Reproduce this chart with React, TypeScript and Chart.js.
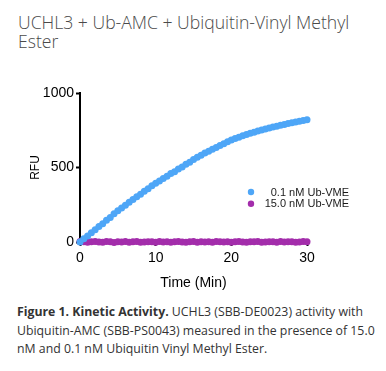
import React, { useEffect, useRef } from "react";
import { Chart, registerables } from "chart.js";

Chart.register(...registerables);

const titleText = "UCHL3 + Ub-AMC + Ubiquitin-Vinyl Methyl Ester";
const xTitle = "Time (Min)";
const yTitle = "RFU";

const times = [
  0, 0.5, 1, 1.5, 2, 2.5, 3, 3.5, 4, 4.5,
  5, 5.5, 6, 6.5, 7, 7.5, 8, 8.5, 9, 9.5,
  10, 10.5, 11, 11.5, 12, 12.5, 13, 13.5, 14, 14.5,
  15, 15.5, 16, 16.5, 17, 17.5, 18, 18.5, 19, 19.5,
  20, 20.5, 21, 21.5, 22, 22.5, 23, 23.5, 24, 24.5,
  25, 25.5, 26, 26.5, 27, 27.5, 28, 28.5, 29, 29.5,
  30,
];

const rfu01 = [
  0, 21, 40, 62, 82, 104, 123, 146, 165, 189,
  209, 229, 246, 267, 285, 304, 321, 341, 358, 378,
  395, 409, 427, 441, 459, 472, 490, 504, 522, 536,
  553, 569, 582, 597, 609, 623, 635, 648, 659, 672,
  684, 695, 703, 713, 721, 730, 737, 745, 751, 759,
  765, 772, 777, 784, 789, 796, 800, 806, 810, 816,
  820,
];

const rfu15 = [
  3, 1, -2, 2, 4, 0, -1, 3, 1, -3,
  2, 0, 4, -1, 1, 3, -2, 0, 2, 1,
  -1, 3, 0, 2, -2, 1, 4, 0, -1, 2,
  3, -1, 1, 0, 2, -2, 3, 1, 0, 2,
  -1, 1, 4, 0, -2, 2, 1, 3, -1, 0,
  2, 1, -2, 3, 0, 1, 2, -1, 0, 3,
  1,
];

const seriesLabels = ["0.1 nM Ub-VME", "15.0 nM Ub-VME"];
const seriesColors = ["#4ea6f7", "#a32dab"];
const xTicks = [0, 10, 20, 30];
const yTicks = [0, 500, 1000];

const captionBold = "Figure 1. Kinetic Activity.";
const captionRest =
  " UCHL3 (SBB-DE0023) activity with Ubiquitin-AMC (SBB-PS0043) measured in the presence of 15.0 nM and 0.1 nM Ubiquitin Vinyl Methyl Ester.";

const legendPlugin = {
  id: "insideLegend",
  afterDatasetsDraw(chart: any) {
    const ctx = chart.ctx;
    const area = chart.chartArea;
    const dotX = area.left + 171;
    const textRight = area.left + 269;
    let y = area.top + 99;
    ctx.save();
    ctx.font = "11px 'Liberation Sans', Arial, sans-serif";
    ctx.textAlign = "right";
    ctx.textBaseline = "middle";
    chart.data.datasets.forEach((ds: any) => {
      ctx.beginPath();
      ctx.arc(dotX, y, 3.2, 0, Math.PI * 2);
      ctx.fillStyle = ds.backgroundColor;
      ctx.fill();
      ctx.fillStyle = "#1a1a1a";
      ctx.fillText(ds.label, textRight, y + 0.5);
      y += 11.7;
    });
    ctx.restore();
  },
};

export default function App() {
  const canvasRef = useRef<HTMLCanvasElement | null>(null);

  useEffect(() => {
    document.body.style.margin = "0";
    const canvas = canvasRef.current;
    if (!canvas) return;
    const tickFont = { family: "'Liberation Sans', Arial, sans-serif", size: 14 };
    const chart = new Chart(canvas, {
      type: "scatter",
      data: {
        datasets: [
          {
            label: seriesLabels[0],
            data: times.map((t, i) => ({ x: t, y: rfu01[i] })),
            backgroundColor: seriesColors[0],
            borderColor: seriesColors[0],
            pointRadius: 3.5,
            pointBorderWidth: 0,
            clip: false,
          } as any,
          {
            label: seriesLabels[1],
            data: times.map((t, i) => ({ x: t, y: rfu15[i] })),
            backgroundColor: seriesColors[1],
            borderColor: seriesColors[1],
            pointRadius: 3.5,
            pointBorderWidth: 0,
            clip: false,
          } as any,
        ],
      },
      options: {
        animation: false,
        responsive: false,
        devicePixelRatio: 1,
        layout: { padding: { left: 0, right: 79, top: 13, bottom: 0 } },
        plugins: {
          legend: { display: false },
          tooltip: { enabled: false },
        },
        scales: {
          x: {
            type: "linear",
            min: 0,
            max: 30,
            afterBuildTicks: (s: any) => {
              s.ticks = xTicks.map((v) => ({ value: v }));
            },
            afterFit: (s: any) => {
              s.height = 53;
            },
            ticks: {
              color: "#000",
              font: tickFont,
              padding: 4,
              maxRotation: 0,
              callback: (v: any) => String(v),
            },
            grid: {
              drawOnChartArea: false,
              drawTicks: true,
              tickLength: 4,
              tickWidth: 2,
              color: "#000",
            },
            border: { display: true, color: "#000", width: 2 },
            title: {
              display: true,
              text: xTitle,
              color: "#000",
              font: tickFont,
              padding: { top: 0, bottom: 3 },
            },
          },
          y: {
            type: "linear",
            min: 0,
            max: 1000,
            afterBuildTicks: (s: any) => {
              s.ticks = yTicks.map((v) => ({ value: v }));
            },
            afterFit: (s: any) => {
              s.width = 80;
            },
            ticks: {
              color: "#000",
              font: tickFont,
              padding: 2,
              callback: (v: any) => String(v),
            },
            grid: {
              drawOnChartArea: false,
              drawTicks: true,
              tickLength: 4,
              tickWidth: 2,
              color: "#000",
            },
            border: { display: true, color: "#000", width: 2 },
            title: {
              display: true,
              text: yTitle,
              color: "#000",
              font: { family: "'Liberation Sans', Arial, sans-serif", size: 12 },
              padding: { top: 28, bottom: 0 },
            },
          },
        },
      },
      plugins: [legendPlugin],
    });
    return () => chart.destroy();
  }, []);

  return (
    <div style={{ position: "relative", width: 386, height: 371, background: "#fff", overflow: "hidden" }}>
      <div
        style={{
          position: "absolute",
          left: 18,
          top: 13,
          width: 368,
          fontFamily: "'Open Sans', sans-serif",
          fontWeight: 300,
          fontSize: 17.6,
          lineHeight: "18.5px",
          color: "#4a4a4a",
        }}
      >
        {titleText}
      </div>
      <canvas
        ref={canvasRef}
        width={386}
        height={215}
        style={{ position: "absolute", left: 0, top: 80, width: 386, height: 215 }}
      />
      <div
        style={{
          position: "absolute",
          left: 17,
          top: 303,
          width: 362,
          fontFamily: "'Open Sans', sans-serif",
          fontSize: 12.3,
          lineHeight: "18.5px",
          color: "#333",
        }}
      >
        <b>{captionBold}</b>
        {captionRest}
      </div>
    </div>
  );
}
